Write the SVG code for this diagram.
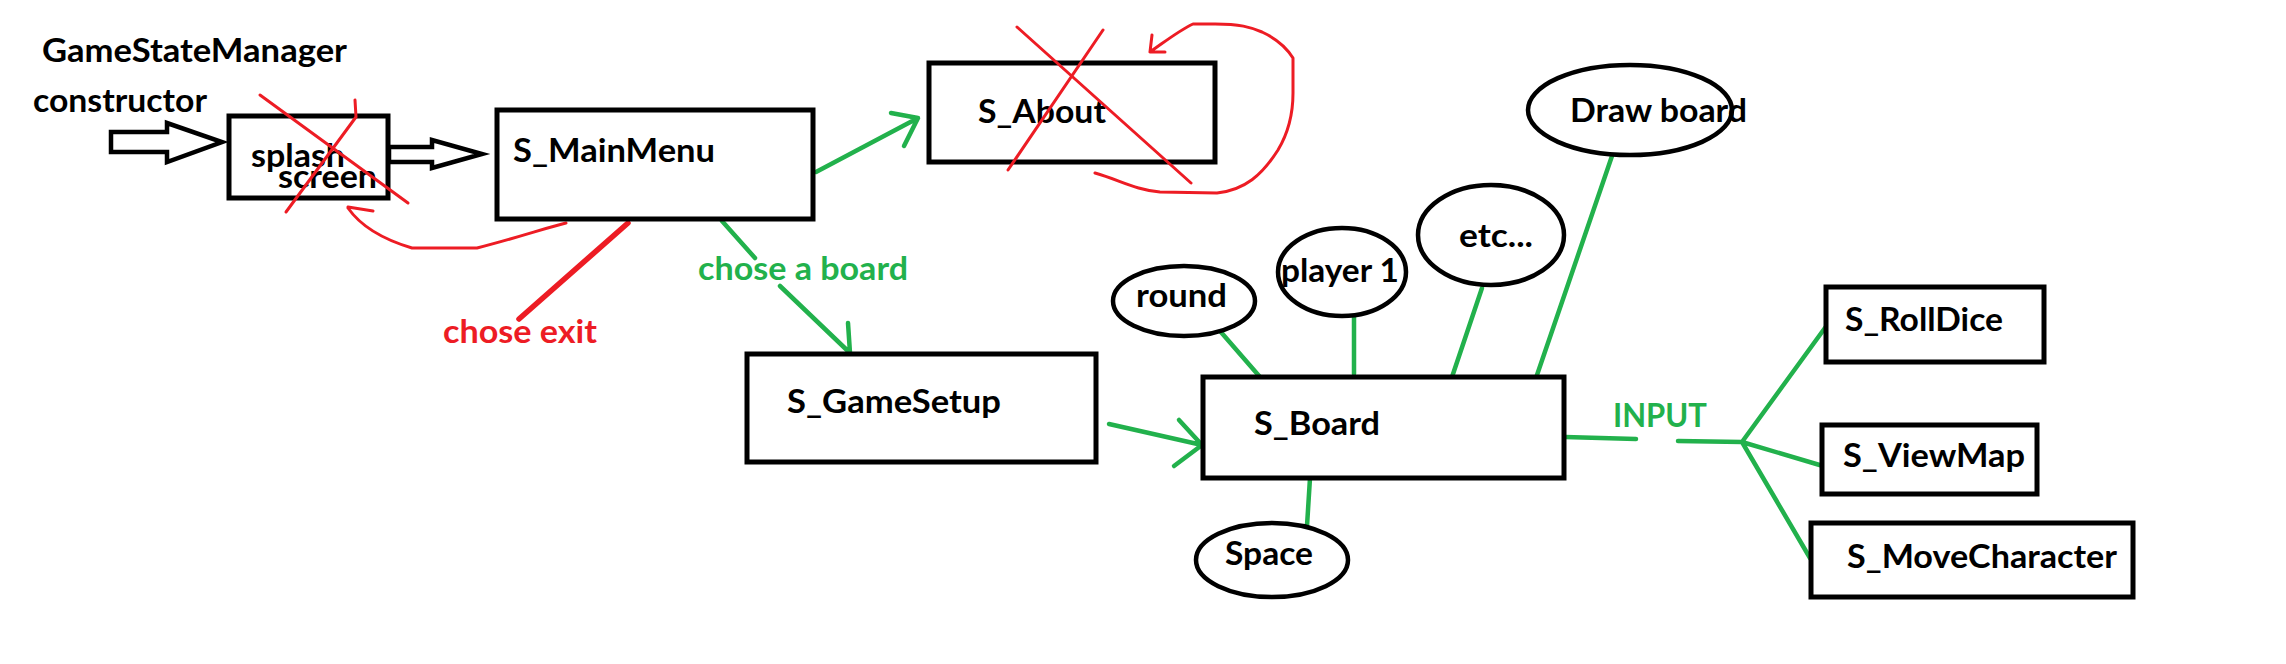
<svg xmlns="http://www.w3.org/2000/svg" width="2286" height="664" viewBox="0 0 2286 664">
<style>
text{font-family:Lato,"Liberation Sans",sans-serif;font-weight:bold;font-size:33px;fill:#000}
.box{fill:#fff;stroke:#000;stroke-width:5}
.ell{fill:#fff;stroke:#000;stroke-width:4.5}
.g{fill:none;stroke:#22b14c;stroke-width:4.5;stroke-linecap:round;stroke-linejoin:round}
.r{fill:none;stroke:#ed1c24;stroke-width:3;stroke-linecap:round;stroke-linejoin:round}
.rt{fill:#ed1c24}
.gt{fill:#22b14c}
.hollow{fill:#fff;stroke:#000;stroke-width:4.5;stroke-linejoin:miter}
</style>
<rect width="2286" height="664" fill="#fff"/>
<g id="labels-top">
<text x="42" y="62" textLength="305" lengthAdjust="spacingAndGlyphs">GameStateManager</text>
<text x="33" y="112" textLength="174" lengthAdjust="spacingAndGlyphs">constructor</text>
</g>
<g id="connectors">
<polygon class="hollow" points="111,132 167,132 167,123 222,142 167,162 167,152 111,152"/>
<polygon class="hollow" points="389,147 432,147 432,140 482,154 432,168 432,162 389,162"/>
<path class="g" d="M816,172 L918,118 M891,113 L918,118 L904,146"/>
<path class="r" d="M566,223 C545,228 520,237 477,248 L412,248 C385,240 362,228 348,208 M373,211 L348,207"/>
<path d="M628,223 L519,319" fill="none" stroke="#ed1c24" stroke-width="5.5" stroke-linecap="round"/>
<path class="g" d="M722,221 L755,258 M780,286 L850,353 L848,323"/>
<path class="g" d="M1109,424 L1202,445 M1179,420 L1202,445 L1174,466"/>
<path class="g" d="M1220,331 L1260,377"/>
<path class="g" d="M1354,313 L1354,374"/>
<path class="g" d="M1482,288 L1452,377"/>
<path class="g" d="M1612,156 L1537,375"/>
<path class="g" d="M1310,478 L1307,526"/>
<path class="g" d="M1565,437 L1636,439 M1678,441 L1742,442 L1830,321 M1742,442 L1823,466 M1742,442 L1810,558"/>
<path class="r" d="M1095,173 C1120,180 1135,190 1160,192 L1217,193 C1245,190 1262,175 1278,150 C1290,130 1293,110 1293,93 L1293,58 C1285,45 1275,38 1262,32 C1250,27 1240,24 1215,24 L1193,24 C1180,30 1170,38 1150,52 M1152,35 L1150,52 L1165,52"/>
</g>
<g id="splash">
<rect class="box" x="229" y="116" width="159" height="82"/>
<text x="251" y="167" textLength="94" lengthAdjust="spacingAndGlyphs">splash</text>
<text x="278" y="188" textLength="99" lengthAdjust="spacingAndGlyphs">screen</text>
<path class="r" d="M260,95 L408,203 M355,100 L356,117 L286,212"/>
</g>
<g id="mainmenu">
<rect class="box" x="497" y="110" width="316" height="109"/>
<text x="513" y="162" textLength="202" lengthAdjust="spacingAndGlyphs">S_MainMenu</text>
</g>
<g id="about">
<rect class="box" x="929" y="63" width="286" height="99"/>
<text x="978" y="123" textLength="128" lengthAdjust="spacingAndGlyphs">S_About</text>
<path class="r" d="M1017,27 L1191,183 M1103,30 L1008,170"/>
</g>
<g id="edge-labels">
<text x="443" y="343" textLength="154" lengthAdjust="spacingAndGlyphs" class="rt">chose exit</text>
<text x="698" y="280" textLength="210" lengthAdjust="spacingAndGlyphs" class="gt">chose a board</text>
<text x="1613" y="427" textLength="94" lengthAdjust="spacingAndGlyphs" class="gt">INPUT</text>
</g>
<g id="gamesetup">
<rect class="box" x="747" y="354" width="349" height="108"/>
<text x="787" y="413" textLength="214" lengthAdjust="spacingAndGlyphs">S_GameSetup</text>
</g>
<g id="board">
<rect class="box" x="1203" y="377" width="361" height="101"/>
<text x="1254" y="435" textLength="126" lengthAdjust="spacingAndGlyphs">S_Board</text>
</g>
<g id="round">
<ellipse class="ell" cx="1184" cy="301" rx="71" ry="35"/>
<text x="1136" y="307" textLength="91" lengthAdjust="spacingAndGlyphs">round</text>
</g>
<g id="player1">
<ellipse class="ell" cx="1342" cy="272" rx="64" ry="44"/>
<text x="1281" y="282" textLength="118" lengthAdjust="spacingAndGlyphs">player 1</text>
</g>
<g id="etc">
<ellipse class="ell" cx="1491" cy="235" rx="73" ry="50"/>
<text x="1459" y="247" textLength="74" lengthAdjust="spacingAndGlyphs">etc...</text>
</g>
<g id="drawboard">
<ellipse class="ell" cx="1630" cy="110" rx="102" ry="45"/>
<text x="1570" y="122" textLength="177" lengthAdjust="spacingAndGlyphs">Draw board</text>
</g>
<g id="space">
<ellipse class="ell" cx="1272" cy="560" rx="76" ry="37"/>
<text x="1225" y="565" textLength="88" lengthAdjust="spacingAndGlyphs">Space</text>
</g>
<g id="rolldice">
<rect class="box" x="1826" y="287" width="218" height="75"/>
<text x="1845" y="331" textLength="158" lengthAdjust="spacingAndGlyphs">S_RollDice</text>
</g>
<g id="viewmap">
<rect class="box" x="1822" y="425" width="215" height="69"/>
<text x="1843" y="467" textLength="182" lengthAdjust="spacingAndGlyphs">S_ViewMap</text>
</g>
<g id="movecharacter">
<rect class="box" x="1811" y="523" width="322" height="74"/>
<text x="1847" y="568" textLength="270" lengthAdjust="spacingAndGlyphs">S_MoveCharacter</text>
</g>
</svg>
